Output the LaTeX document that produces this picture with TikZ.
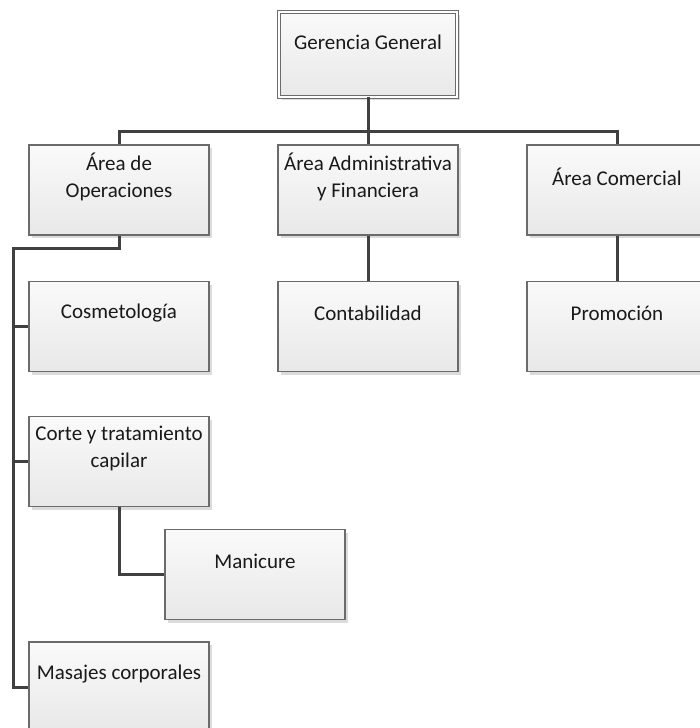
\documentclass[tikz,border=0pt]{standalone}
\usepackage{fontspec}
\setmainfont{Carlito}
\usetikzlibrary{shadows}

\begin{document}
\begin{tikzpicture}[x=1pt, y=1pt,
unit/.style={rectangle, draw=black!58, line width=1.2pt, top color=black!2, bottom color=black!9, minimum width=180pt, minimum height=90pt, inner sep=0pt, drop shadow={shadow xshift=3pt, shadow yshift=-3pt, fill=black!14, opacity=1}},
headunit/.style={unit, double=white, double distance=2.2pt, line width=0.9pt, minimum width=178pt, minimum height=85pt},
txt/.style={align=center, font=\fontsize{21}{27}\selectfont, text=black!90, yshift=13pt},
link/.style={draw=black!75, line width=3pt}
]
    \useasboundingbox (0,0) rectangle (699,-728);

    \node [headunit, label={[txt, yshift=-1pt]center:Gerencia General}] (gg) at (368,-54.5) {};

    \node [unit, label={[txt]center:{Área de\\Operaciones}}] (ops) at (119,-190) {};
    \node [unit, label={[txt]center:{Área Administrativa\\y Financiera}}] (adm) at (368,-190) {};
    \node [unit, label={[txt]center:Área Comercial}] (com) at (617,-190) {};

    \node [unit, label={[txt]center:Cosmetología}] (cos) at (119,-326.5) {};
    \node [unit, label={[txt]center:Contabilidad}] (con) at (368,-326.5) {};
    \node [unit, label={[txt]center:Promoción}] (pro) at (617,-326.5) {};

    \node [unit, label={[txt]center:{Corte y tratamiento\\capilar}}] (cor) at (119,-461.5) {};
    \node [unit, label={[txt]center:Manicure}] (man) at (255,-574.5) {};
    \node [unit, label={[txt]center:Masajes corporales}] (mas) at (119,-687) {};

    \coordinate (bus) at (368,-131);
    \coordinate (rail) at (13,-248);

    \draw [link] (gg.south) -- (bus);
    \draw [link] (ops.north) |- (bus) -| (com.north);
    \draw [link] (adm.north) -- (bus);
    \draw [link] (adm) -- (con);
    \draw [link] (com) -- (pro);
    \draw [link] (ops.south) |- (rail) |- (mas.west);
    \draw [link] (rail |- cos.west) -- (cos.west);
    \draw [link] (rail |- cor.west) -- (cor.west);
    \draw [link] (cor.south) |- (man.west);
\end{tikzpicture}
\end{document}
